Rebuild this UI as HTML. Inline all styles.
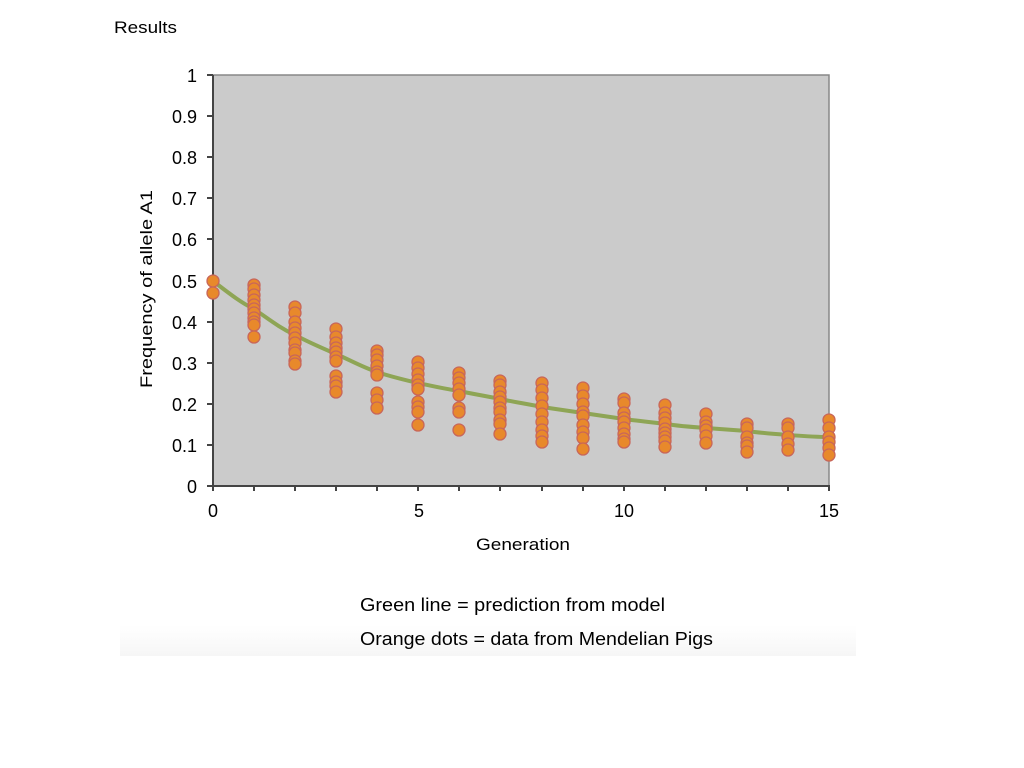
<!DOCTYPE html>
<html><head><meta charset="utf-8"><style>
body{margin:0;background:#fff;width:1024px;height:768px;overflow:hidden}
svg{display:block}
text{font-family:"Liberation Sans",Arial,sans-serif;fill:#000}
</style></head><body>
<svg width="1024" height="768" viewBox="0 0 1024 768">
<defs>
<linearGradient id="g" x1="0" y1="0" x2="0" y2="1"><stop offset="0" stop-color="#fff"/><stop offset="1" stop-color="#f6f6f6"/></linearGradient>
</defs>
<rect x="120" y="625" width="736" height="31" fill="url(#g)"/>
<text x="114" y="33" font-size="17" textLength="63" lengthAdjust="spacingAndGlyphs">Results</text>
<rect x="213" y="75" width="616" height="411" fill="#cbcbcb" stroke="#888" stroke-width="1.5"/>
<g stroke="#444" stroke-width="2">
<line x1="213" y1="75" x2="213" y2="487"/><line x1="212" y1="486" x2="830" y2="486"/>
<line x1="207" y1="75" x2="213" y2="75"/><line x1="207" y1="116" x2="213" y2="116"/><line x1="207" y1="157" x2="213" y2="157"/><line x1="207" y1="198" x2="213" y2="198"/><line x1="207" y1="239" x2="213" y2="239"/><line x1="207" y1="281" x2="213" y2="281"/><line x1="207" y1="322" x2="213" y2="322"/><line x1="207" y1="363" x2="213" y2="363"/><line x1="207" y1="404" x2="213" y2="404"/><line x1="207" y1="445" x2="213" y2="445"/><line x1="207" y1="486" x2="213" y2="486"/>
<line x1="213" y1="486" x2="213" y2="491"/><line x1="254" y1="486" x2="254" y2="491"/><line x1="295" y1="486" x2="295" y2="491"/><line x1="336" y1="486" x2="336" y2="491"/><line x1="377" y1="486" x2="377" y2="491"/><line x1="418" y1="486" x2="418" y2="491"/><line x1="459" y1="486" x2="459" y2="491"/><line x1="500" y1="486" x2="500" y2="491"/><line x1="542" y1="486" x2="542" y2="491"/><line x1="583" y1="486" x2="583" y2="491"/><line x1="624" y1="486" x2="624" y2="491"/><line x1="665" y1="486" x2="665" y2="491"/><line x1="706" y1="486" x2="706" y2="491"/><line x1="747" y1="486" x2="747" y2="491"/><line x1="788" y1="486" x2="788" y2="491"/><line x1="829" y1="486" x2="829" y2="491"/>
</g>
<g font-size="18" text-anchor="end">
<text x="197" y="82">1</text><text x="197" y="123">0.9</text><text x="197" y="164">0.8</text><text x="197" y="205">0.7</text><text x="197" y="246">0.6</text><text x="197" y="288">0.5</text><text x="197" y="329">0.4</text><text x="197" y="370">0.3</text><text x="197" y="411">0.2</text><text x="197" y="452">0.1</text><text x="197" y="493">0</text>
</g>
<g font-size="18" text-anchor="middle">
<text x="213" y="517">0</text><text x="419" y="517">5</text><text x="624" y="517">10</text><text x="829" y="517">15</text>
<text x="523" y="550" font-size="17" textLength="94" lengthAdjust="spacingAndGlyphs">Generation</text>
<text transform="translate(152,289) rotate(-90)" font-size="17" textLength="198" lengthAdjust="spacingAndGlyphs">Frequency of allele A1</text>
</g>
<path d="M213,281 C230,294 240,302 254,309 C270,320 280,328 295,335 C310,343 322,348 336,354 C352,361 362,367 377,372 C392,377 405,380 418,383 C432,386 445,389 459,391 C473,394 486,396 500,399 C514,402 528,404 542,407 C556,409 569,411 583,413 C597,415 610,417 624,419 C638,421 651,422 665,424 C679,426 692,427 706,428 C720,429 733,430 747,431 C761,433 774,434 788,435 C802,436 815,437 829,437" fill="none" stroke="#8ea555" stroke-width="4"/>
<g fill="#e8892b" stroke="#c8665a" stroke-width="1.3">
<circle cx="213" cy="281" r="6"/><circle cx="213" cy="293" r="6"/>
<circle cx="254" cy="285" r="6"/><circle cx="254" cy="289" r="6"/><circle cx="254" cy="295" r="6"/><circle cx="254" cy="300" r="6"/><circle cx="254" cy="305" r="6"/><circle cx="254" cy="309" r="6"/><circle cx="254" cy="313" r="6"/><circle cx="254" cy="318" r="6"/><circle cx="254" cy="322" r="6"/><circle cx="254" cy="325" r="6"/><circle cx="254" cy="337" r="6"/>
<circle cx="295" cy="307" r="6"/><circle cx="295" cy="313" r="6"/><circle cx="295" cy="322" r="6"/><circle cx="295" cy="328" r="6"/><circle cx="295" cy="333" r="6"/><circle cx="295" cy="338" r="6"/><circle cx="295" cy="343" r="6"/><circle cx="295" cy="350" r="6"/><circle cx="295" cy="353" r="6"/><circle cx="295" cy="361" r="6"/><circle cx="295" cy="364" r="6"/>
<circle cx="336" cy="329" r="6"/><circle cx="336" cy="337" r="6"/><circle cx="336" cy="343" r="6"/><circle cx="336" cy="348" r="6"/><circle cx="336" cy="352" r="6"/><circle cx="336" cy="357" r="6"/><circle cx="336" cy="361" r="6"/><circle cx="336" cy="376" r="6"/><circle cx="336" cy="382" r="6"/><circle cx="336" cy="386" r="6"/><circle cx="336" cy="392" r="6"/>
<circle cx="377" cy="351" r="6"/><circle cx="377" cy="355" r="6"/><circle cx="377" cy="360" r="6"/><circle cx="377" cy="366" r="6"/><circle cx="377" cy="372" r="6"/><circle cx="377" cy="375" r="6"/><circle cx="377" cy="393" r="6"/><circle cx="377" cy="400" r="6"/><circle cx="377" cy="408" r="6"/>
<circle cx="418" cy="362" r="6"/><circle cx="418" cy="368" r="6"/><circle cx="418" cy="374" r="6"/><circle cx="418" cy="380" r="6"/><circle cx="418" cy="385" r="6"/><circle cx="418" cy="389" r="6"/><circle cx="418" cy="402" r="6"/><circle cx="418" cy="407" r="6"/><circle cx="418" cy="412" r="6"/><circle cx="418" cy="425" r="6"/>
<circle cx="459" cy="373" r="6"/><circle cx="459" cy="378" r="6"/><circle cx="459" cy="383" r="6"/><circle cx="459" cy="389" r="6"/><circle cx="459" cy="395" r="6"/><circle cx="459" cy="408" r="6"/><circle cx="459" cy="412" r="6"/><circle cx="459" cy="430" r="6"/>
<circle cx="500" cy="381" r="6"/><circle cx="500" cy="385" r="6"/><circle cx="500" cy="392" r="6"/><circle cx="500" cy="397" r="6"/><circle cx="500" cy="402" r="6"/><circle cx="500" cy="408" r="6"/><circle cx="500" cy="412" r="6"/><circle cx="500" cy="420" r="6"/><circle cx="500" cy="424" r="6"/><circle cx="500" cy="434" r="6"/>
<circle cx="542" cy="383" r="6"/><circle cx="542" cy="390" r="6"/><circle cx="542" cy="398" r="6"/><circle cx="542" cy="406" r="6"/><circle cx="542" cy="414" r="6"/><circle cx="542" cy="422" r="6"/><circle cx="542" cy="430" r="6"/><circle cx="542" cy="436" r="6"/><circle cx="542" cy="442" r="6"/>
<circle cx="583" cy="388" r="6"/><circle cx="583" cy="396" r="6"/><circle cx="583" cy="404" r="6"/><circle cx="583" cy="412" r="6"/><circle cx="583" cy="416" r="6"/><circle cx="583" cy="425" r="6"/><circle cx="583" cy="432" r="6"/><circle cx="583" cy="438" r="6"/><circle cx="583" cy="449" r="6"/>
<circle cx="624" cy="399" r="6"/><circle cx="624" cy="403" r="6"/><circle cx="624" cy="413" r="6"/><circle cx="624" cy="418" r="6"/><circle cx="624" cy="422" r="6"/><circle cx="624" cy="428" r="6"/><circle cx="624" cy="434" r="6"/><circle cx="624" cy="439" r="6"/><circle cx="624" cy="442" r="6"/>
<circle cx="665" cy="405" r="6"/><circle cx="665" cy="413" r="6"/><circle cx="665" cy="418" r="6"/><circle cx="665" cy="423" r="6"/><circle cx="665" cy="429" r="6"/><circle cx="665" cy="433" r="6"/><circle cx="665" cy="437" r="6"/><circle cx="665" cy="441" r="6"/><circle cx="665" cy="447" r="6"/>
<circle cx="706" cy="414" r="6"/><circle cx="706" cy="422" r="6"/><circle cx="706" cy="426" r="6"/><circle cx="706" cy="430" r="6"/><circle cx="706" cy="436" r="6"/><circle cx="706" cy="443" r="6"/>
<circle cx="747" cy="424" r="6"/><circle cx="747" cy="428" r="6"/><circle cx="747" cy="437" r="6"/><circle cx="747" cy="443" r="6"/><circle cx="747" cy="446" r="6"/><circle cx="747" cy="452" r="6"/>
<circle cx="788" cy="424" r="6"/><circle cx="788" cy="428" r="6"/><circle cx="788" cy="437" r="6"/><circle cx="788" cy="444" r="6"/><circle cx="788" cy="450" r="6"/>
<circle cx="829" cy="420" r="6"/><circle cx="829" cy="428" r="6"/><circle cx="829" cy="437" r="6"/><circle cx="829" cy="442" r="6"/><circle cx="829" cy="448" r="6"/><circle cx="829" cy="455" r="6"/>
</g>
<text x="360" y="611" font-size="18" textLength="305" lengthAdjust="spacingAndGlyphs">Green line = prediction from model</text>
<text x="360" y="645" font-size="18" textLength="353" lengthAdjust="spacingAndGlyphs">Orange dots = data from Mendelian Pigs</text>
</svg>
</body></html>
